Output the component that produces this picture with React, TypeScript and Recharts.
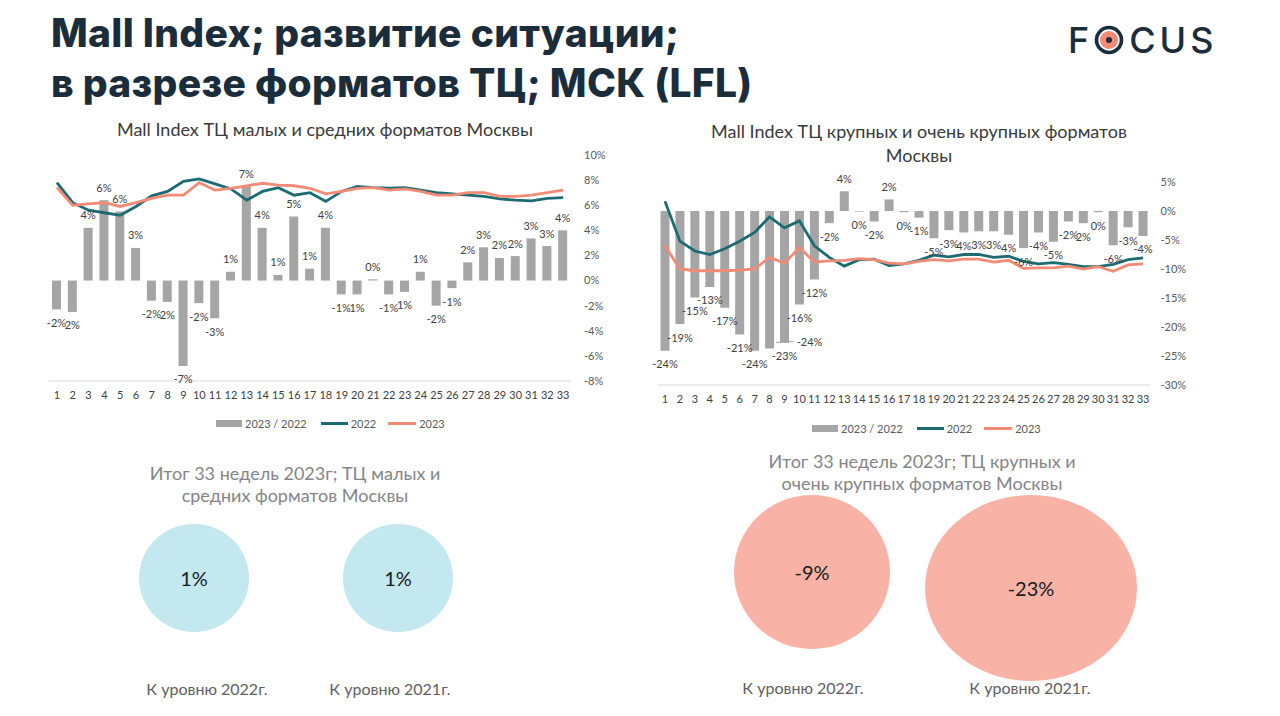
import React from "react"
import { ComposedChart, Bar, Line, XAxis, YAxis } from "recharts"

const weeks = ["1","2","3","4","5","6","7","8","9","10","11","12","13","14","15","16","17","18","19","20","21","22","23","24","25","26","27","28","29","30","31","32","33"]

// ТЦ малых и средних форматов
const smallRatio = [-2.3, -2.5, 4.2, 6.4, 5.5, 2.6, -1.6, -1.7, -6.8, -1.8, -3.0, 0.7, 7.5, 4.2, 0.45, 5.1, 0.95, 4.2, -1.1, -1.1, 0.1, -1.1, -0.9, 0.7, -2.0, -0.6, 1.45, 2.65, 1.8, 1.95, 3.35, 2.75, 4.0]
const smallLabels = ["-2%","2%","4%","6%","6%","3%","-2%","2%","-7%","-2%","-3%","1%","7%","4%","1%","5%","1%","4%","-1%","1%","0%","-1%","1%","1%","-2%","-1%","2%","3%","2%","2%","3%","3%","4%"]
const small2022 = [7.8, 6.2, 5.6, 5.4, 5.2, 5.9, 6.75, 7.1, 7.9, 8.1, 7.7, 7.3, 6.4, 7.1, 7.4, 6.8, 7.0, 6.3, 7.1, 7.5, 7.4, 7.35, 7.4, 7.2, 7.0, 6.9, 6.8, 6.7, 6.5, 6.4, 6.35, 6.55, 6.6]
const small2023 = [7.4, 6.0, 6.1, 6.2, 5.9, 6.2, 6.55, 6.8, 6.8, 7.8, 7.2, 7.35, 7.55, 7.75, 7.6, 7.55, 7.35, 6.9, 7.1, 7.35, 7.4, 7.2, 7.3, 7.1, 6.8, 6.8, 7.0, 7.0, 6.7, 6.7, 6.8, 7.0, 7.2]
const smallTicks = [-8, -6, -4, -2, 0, 2, 4, 6, 8, 10]

// ТЦ крупных и очень крупных форматов
const largeRatio = [-24.1, -19.5, -14.9, -13.1, -16.7, -21.3, -24.1, -23.7, -22.7, -16.1, -11.8, -2.1, 3.4, -0.1, -1.8, 2.0, -0.2, -1.15, -4.7, -3.3, -3.7, -3.5, -3.5, -4.1, -6.4, -3.7, -5.3, -1.8, -2.1, -0.2, -5.9, -2.8, -4.3]
const largeLabels = ["-24%","-19%","-15%","-13%","-17%","-21%","-24%","-24%","-23%","-16%","-12%","-2%","4%","0%","-2%","2%","0%","-1%","-5%","-3%","4%","3%","3%","4%","-6%","-4%","-5%","-2%","2%","0%","-6%","-3%","-4%"]
const large2022 = [1.7, -5.2, -6.9, -7.5, -6.5, -5.2, -3.7, -1.0, -2.9, -1.7, -6.0, -8.0, -9.5, -8.4, -8.3, -9.4, -9.1, -8.5, -7.6, -7.9, -7.5, -7.5, -8.0, -7.8, -8.7, -9.1, -8.9, -9.2, -9.6, -9.6, -9.2, -8.4, -8.1]
const large2023 = [-6.0, -10.0, -10.3, -10.3, -10.3, -10.2, -10.0, -8.0, -9.0, -6.3, -8.8, -8.6, -8.5, -8.2, -8.4, -9.0, -9.1, -8.7, -8.4, -8.6, -8.3, -8.3, -8.8, -8.5, -9.9, -9.8, -9.8, -9.5, -10.0, -9.6, -10.4, -9.3, -9.1]
const largeTicks = [-30, -25, -20, -15, -10, -5, 0, 5]

const seriesNames = ["2023 / 2022", "2022", "2023"]
const levelLabels = ["К уровню 2022г.", "К уровню 2021г."]
const smallTotals = [1, 1]
const largeTotals = [-9, -23]

const NAVY = "#1b2d3b"
const GREY_BAR = "#a5a5a5"
const TEAL = "#1d6b72"
const SALMON = "#f28b76"
const CHART_FONT = "Lato, 'Open Sans', sans-serif"

const buildRows = (ratio: number[], y22: number[], y23: number[]) =>
  weeks.map((w, i) => ({ week: w, ratio: ratio[i], y2022: y22[i], y2023: y23[i] }))

const smallRows = buildRows(smallRatio, small2022, small2023)
const largeRows = buildRows(largeRatio, large2022, large2023)

// hand-moved label in the source (bar 8 of the large chart)
const largeNudge: Record<number, { dx: number; dy: number }> = { 7: { dx: 40, dy: -20 } }

function makeBarLabel(labels: string[], nudge: Record<number, { dx: number; dy: number }> = {}) {
  return (props: any) => {
    const vb = props.viewBox || {}
    const x = props.x ?? vb.x
    const y = props.y ?? vb.y
    const w = props.width ?? vb.width
    const h = props.height ?? vb.height
    const idx = props.index
    const v = Number(props.value)
    if (x == null || y == null) return null
    const top = Math.min(y, y + h)
    const bottom = Math.max(y, y + h)
    let cx = x + w / 2
    let cy = v >= 0 ? top - 13 : bottom + 13
    const n = nudge[idx]
    let leader = null
    if (n) {
      cx += n.dx
      cy += n.dy
      leader = <line x1={x + w + 2} y1={cy + 1} x2={cx - 16} y2={cy} stroke="#a6a6a6" strokeWidth={1} />
    }
    return (
      <g>
        {leader}
        <text x={cx} y={cy} textAnchor="middle" dominantBaseline="central" fontSize={11} fill="#404040" fontFamily={CHART_FONT}>
          {labels[idx]}
        </text>
      </g>
    )
  }
}

function LegendRow({ left, top }: { left: number; top: number }) {
  const txt: React.CSSProperties = { fontSize: 11, color: "#595959", fontFamily: CHART_FONT, marginLeft: 3 }
  return (
    <div style={{ position: "absolute", left, top, display: "flex", alignItems: "center", height: 14 }}>
      <span style={{ width: 26, height: 7, background: GREY_BAR, display: "inline-block" }} />
      <span style={txt}>{seriesNames[0]}</span>
      <span style={{ width: 27, height: 3, background: TEAL, display: "inline-block", marginLeft: 14 }} />
      <span style={txt}>{seriesNames[1]}</span>
      <span style={{ width: 28, height: 3, background: SALMON, display: "inline-block", marginLeft: 12 }} />
      <span style={txt}>{seriesNames[2]}</span>
    </div>
  )
}

interface WeekChartProps {
  rows: any[]
  labels: string[]
  ticks: number[]
  width: number
  height: number
  margin: { top: number; right: number; bottom: number; left: number }
  tickMargin: number
  nudge?: Record<number, { dx: number; dy: number }>
}

function WeekChart({ rows, labels, ticks, width, height, margin, tickMargin, nudge }: WeekChartProps) {
  const domain = [ticks[0], ticks[ticks.length - 1]]
  return (
    <ComposedChart width={width} height={height} data={rows} margin={margin}>
      <XAxis
        dataKey="week"
        interval={0}
        tickLine={false}
        axisLine={{ stroke: "#d9d9d9" }}
        tick={{ fontSize: 11, fill: "#404040", fontFamily: CHART_FONT }}
        tickMargin={4}
        height={21}
      />
      <YAxis
        yAxisId="pct"
        orientation="right"
        domain={domain}
        ticks={ticks}
        allowDataOverflow
        axisLine={false}
        tickLine={false}
        tickMargin={tickMargin}
        width={60}
        tick={{ fontSize: 11, fill: "#595959", fontFamily: CHART_FONT }}
        tickFormatter={(v) => `${v}%`}
      />
      <Bar yAxisId="pct" dataKey="ratio" fill={GREY_BAR} barSize={9} isAnimationActive={false} label={makeBarLabel(labels, nudge)} />
      <Line yAxisId="pct" dataKey="y2022" stroke={TEAL} strokeWidth={2.8} dot={false} isAnimationActive={false} />
      <Line yAxisId="pct" dataKey="y2023" stroke={SALMON} strokeWidth={2.8} dot={false} isAnimationActive={false} />
    </ComposedChart>
  )
}

function Bubble({ cx, cy, rx, ry, color, value }: { cx: number; cy: number; rx: number; ry: number; color: string; value: number }) {
  return (
    <div
      style={{
        position: "absolute",
        left: cx - rx,
        top: cy - ry,
        width: rx * 2,
        height: ry * 2,
        borderRadius: "50%",
        background: color,
        display: "flex",
        alignItems: "center",
        justifyContent: "center",
        fontFamily: CHART_FONT,
        fontSize: 20,
        color: "#1a1a1a",
      }}
    >
      {value}%
    </div>
  )
}

function Centered({ x, y, children, style }: { x: number; y: number; children: React.ReactNode; style?: React.CSSProperties }) {
  return (
    <div style={{ position: "absolute", left: x - 300, top: y, width: 600, textAlign: "center", ...style }}>{children}</div>
  )
}

export default function App() {
  const subStyle: React.CSSProperties = { fontFamily: "Lato, sans-serif", fontSize: 18, color: "#3a3a3a", lineHeight: "24px" }
  const sumStyle: React.CSSProperties = { fontFamily: "Lato, sans-serif", fontSize: 18, color: "#858585", lineHeight: "22px" }
  const capStyle: React.CSSProperties = { fontFamily: "Lato, sans-serif", fontSize: 16, color: "#606060", lineHeight: "20px" }

  return (
    <div style={{ position: "absolute", left: 0, top: 0, width: 1280, height: 716, background: "#fff", overflow: "hidden" }}>
      <div
        style={{
          position: "absolute",
          left: 51,
          top: 8,
          fontFamily: "Inter, sans-serif",
          fontWeight: 800,
          fontSize: 39,
          lineHeight: "50px",
          color: NAVY,
          letterSpacing: 0.3,
        }}
      >
        Mall Index; развитие ситуации;
        <br />в разрезе форматов ТЦ; МСК (LFL)
      </div>

      {/* logo */}
      <div style={{ position: "absolute", left: 1068, top: 18, display: "flex", alignItems: "center", fontFamily: "Inter, sans-serif", fontWeight: 500, fontSize: 36, color: NAVY, letterSpacing: 4 }}>
        <span>F</span>
        <svg width={30} height={30} style={{ margin: "0 5px 0 1px" }}>
          <circle cx={15} cy={15} r={12.5} fill="none" stroke={NAVY} strokeWidth={3.6} />
          <circle cx={15} cy={15} r={9} fill={SALMON} />
          <circle cx={15} cy={15} r={3} fill={NAVY} />
        </svg>
        <span>CUS</span>
      </div>

      <Centered x={325} y={117} style={subStyle}>Mall Index ТЦ малых и средних форматов Москвы</Centered>
      <Centered x={919} y={119} style={subStyle}>
        Mall Index ТЦ крупных и очень крупных форматов
        <br />
        Москвы
      </Centered>

      <div style={{ position: "absolute", left: 0, top: 140 }}>
        <WeekChart
          rows={smallRows}
          labels={smallLabels}
          ticks={smallTicks}
          width={640}
          height={262}
          margin={{ top: 15, right: 9, bottom: 0, left: 49 }}
          tickMargin={7}
        />
      </div>
      <LegendRow left={216} top={416} />

      <div style={{ position: "absolute", left: 600, top: 160 }}>
        <WeekChart
          rows={largeRows}
          labels={largeLabels}
          ticks={largeTicks}
          width={680}
          height={246}
          margin={{ top: 22, right: 69.5, bottom: 0, left: 57.5 }}
          tickMargin={4}
          nudge={largeNudge}
        />
      </div>
      <LegendRow left={812} top={421} />

      <Centered x={295} y={462} style={sumStyle}>
        Итог 33 недель 2023г; ТЦ малых и
        <br />
        средних форматов Москвы
      </Centered>
      <Centered x={922} y={450} style={sumStyle}>
        Итог 33 недель 2023г; ТЦ крупных и
        <br />
        очень крупных форматов Москвы
      </Centered>

      <Bubble cx={194} cy={578} rx={55} ry={54} color="#c4e8ef" value={smallTotals[0]} />
      <Bubble cx={398} cy={578} rx={55} ry={54} color="#c4e8ef" value={smallTotals[1]} />
      <Bubble cx={812} cy={572} rx={78} ry={77} color="#f8b3a6" value={largeTotals[0]} />
      <Bubble cx={1031} cy={588} rx={106} ry={93} color="#f8b3a6" value={largeTotals[1]} />

      <Centered x={207} y={679} style={capStyle}>{levelLabels[0]}</Centered>
      <Centered x={390} y={679} style={capStyle}>{levelLabels[1]}</Centered>
      <Centered x={803} y={678} style={capStyle}>{levelLabels[0]}</Centered>
      <Centered x={1030} y={678} style={capStyle}>{levelLabels[1]}</Centered>
    </div>
  )
}
